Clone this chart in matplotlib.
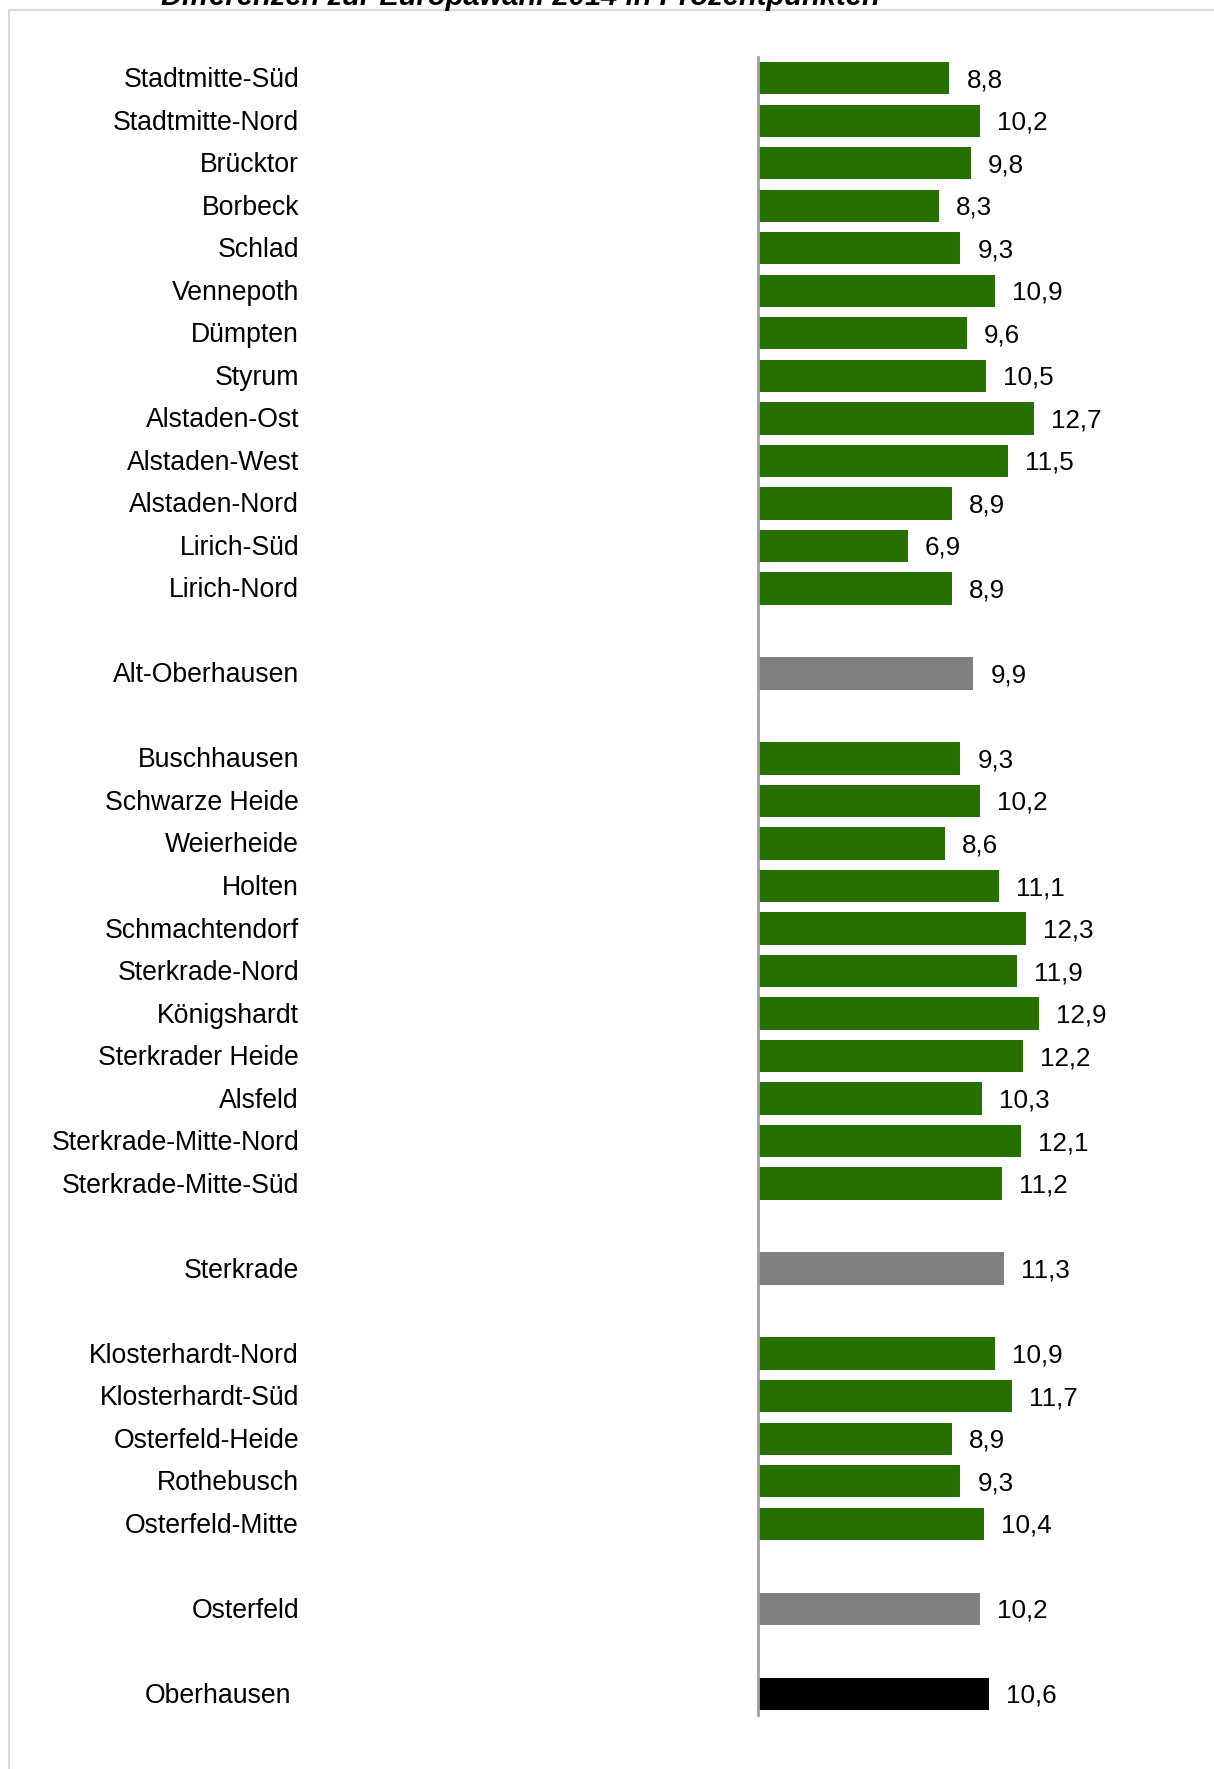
import matplotlib
matplotlib.use("Agg")
import matplotlib.pyplot as plt
import matplotlib.transforms as mtransforms
from matplotlib.patches import Rectangle

plt.rcParams['font.family'] = ['Liberation Sans', 'DejaVu Sans']

# ---- data ----
alt_districts = ["Stadtmitte-Süd", "Stadtmitte-Nord", "Brücktor", "Borbeck", "Schlad",
                 "Vennepoth", "Dümpten", "Styrum", "Alstaden-Ost", "Alstaden-West",
                 "Alstaden-Nord", "Lirich-Süd", "Lirich-Nord"]
alt_values = [8.8, 10.2, 9.8, 8.3, 9.3, 10.9, 9.6, 10.5, 12.7, 11.5, 8.9, 6.9, 8.9]

sterkrade_districts = ["Buschhausen", "Schwarze Heide", "Weierheide", "Holten", "Schmachtendorf",
                       "Sterkrade-Nord", "Königshardt", "Sterkrader Heide", "Alsfeld",
                       "Sterkrade-Mitte-Nord", "Sterkrade-Mitte-Süd"]
sterkrade_values = [9.3, 10.2, 8.6, 11.1, 12.3, 11.9, 12.9, 12.2, 10.3, 12.1, 11.2]

osterfeld_districts = ["Klosterhardt-Nord", "Klosterhardt-Süd", "Osterfeld-Heide",
                       "Rothebusch", "Osterfeld-Mitte"]
osterfeld_values = [10.9, 11.7, 8.9, 9.3, 10.4]

borough_names = ["Alt-Oberhausen", "Sterkrade", "Osterfeld"]
borough_values = [9.9, 11.3, 10.2]

city_name = "Oberhausen"
city_value = 10.6

title = "Differenzen zur Europawahl 2014 in Prozentpunkten"

GREEN = "#267000"
GRAY = "#808080"
BLACK = "#000000"

W, H = 1214, 1769
fig = plt.figure(figsize=(W / 100, H / 100), dpi=100)

# frame
fig.patches.append(Rectangle((9 / W, -0.05), 1.2, 1 - 10 / H + 0.05, transform=fig.transFigure,
                             fill=False, edgecolor="#d9d9d9", linewidth=1.5))

ax = fig.add_axes([758 / W, 1 - 1715 / H, 435 / W, (1715 - 57) / H])

rows = []  # (pos, name, value, color)
groups = [(alt_districts, alt_values), (sterkrade_districts, sterkrade_values),
          (osterfeld_districts, osterfeld_values)]
pos = 0
for (names, vals), bname, bval in zip(groups, borough_names, borough_values):
    for n, v in zip(names, vals):
        rows.append((pos, n, v, GREEN))
        pos += 1
    pos += 1
    rows.append((pos, bname, bval, GRAY))
    pos += 2
rows.append((pos, city_name, city_value, BLACK))

ys = [r[0] for r in rows]
vals = [r[2] for r in rows]
cols = [r[3] for r in rows]
ax.barh(ys, vals, height=0.76, color=cols, edgecolor="none")

ax.set_xlim(0, 20)
ax.set_ylim(pos + 0.5, -0.5)
ax.set_xticks([])
ax.set_yticks([])
for s in ["top", "right", "bottom"]:
    ax.spines[s].set_visible(False)
ax.spines["left"].set_color("#a0a0a0")
ax.spines["left"].set_linewidth(2)
ax.patch.set_alpha(0)

trans = mtransforms.blended_transform_factory(fig.transFigure, ax.transData)
trans = mtransforms.offset_copy(trans, fig=fig, x=0, y=-2, units="dots")
offset = mtransforms.offset_copy(ax.transData, fig=fig, x=17, y=-2, units="dots")
for y, n, v, c in rows:
    xl = 291 / W if c == BLACK else 299 / W
    ax.text(xl, y, n, transform=trans, ha="right", va="center", fontsize=19.2, color="#000000")
    ax.text(v, y, f"{v:.1f}".replace(".", ","), transform=offset, ha="left", va="center",
            fontsize=18.7, color="#000000")

fig.text(520 / W, 1 - 5 / H, title, ha="center", va="baseline", fontsize=21,
         fontweight="bold", fontstyle="italic")

fig.savefig("out.png", dpi=100)
